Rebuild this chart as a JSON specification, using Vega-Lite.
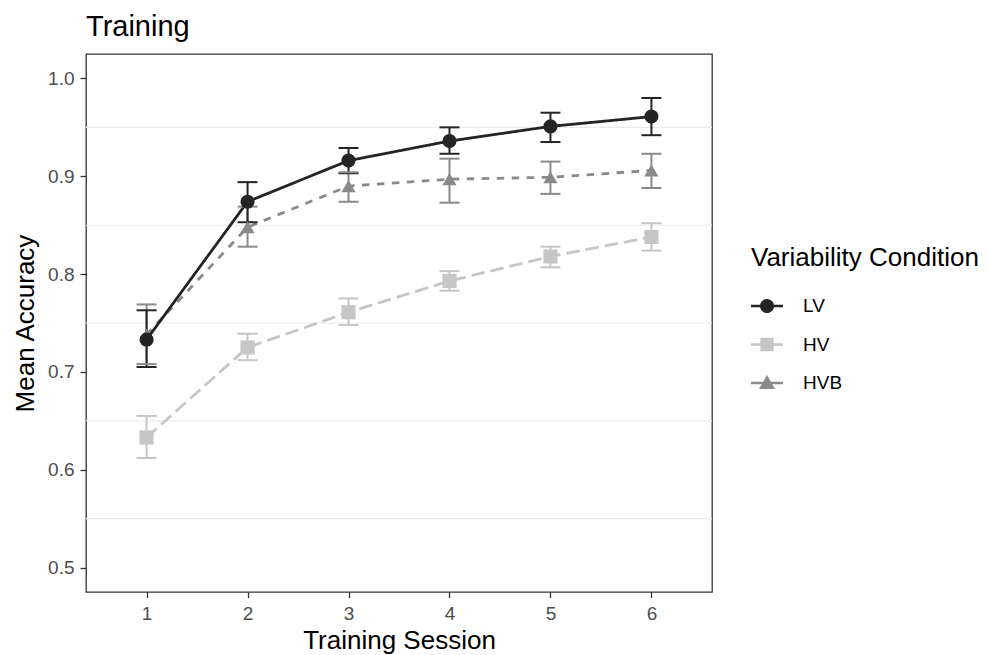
{
  "$schema": "https://vega.github.io/schema/vega-lite/v6.json",
  "width": 626,
  "height": 538,
  "autosize": {"type": "none"},
  "padding": {"left": 86, "top": 54, "right": 277, "bottom": 63},
  "background": "white",
  "title": {
    "text": "Training",
    "anchor": "start",
    "frame": "group",
    "font": "Liberation Sans",
    "fontSize": 29,
    "fontWeight": "normal",
    "color": "black",
    "baseline": "alphabetic",
    "offset": 17,
    "dy": 28
  },
  "config": {
    "view": {"stroke": "#333333", "strokeWidth": 1.3},
    "font": "Liberation Sans",
    "axis": {
      "labelFont": "Liberation Sans",
      "titleFont": "Liberation Sans",
      "labelFontSize": 19,
      "labelColor": "#4d4d4d",
      "titleFontSize": 26,
      "titleFontWeight": "normal",
      "titleColor": "black",
      "tickColor": "#333333",
      "tickWidth": 1.3,
      "domain": false,
      "grid": false
    }
  },
  "resolve": {"scale": {"color": "independent", "shape": "independent"}},
  "datasets": {
    "acc": [
      {"session": 1, "cond": "HVB", "mean": 0.738, "lo": 0.708, "hi": 0.769},
      {"session": 2, "cond": "HVB", "mean": 0.848, "lo": 0.828, "hi": 0.869},
      {"session": 3, "cond": "HVB", "mean": 0.890, "lo": 0.874, "hi": 0.904},
      {"session": 4, "cond": "HVB", "mean": 0.897, "lo": 0.873, "hi": 0.918},
      {"session": 5, "cond": "HVB", "mean": 0.899, "lo": 0.882, "hi": 0.915},
      {"session": 6, "cond": "HVB", "mean": 0.906, "lo": 0.888, "hi": 0.923},
      {"session": 1, "cond": "HV", "mean": 0.633, "lo": 0.612, "hi": 0.655},
      {"session": 2, "cond": "HV", "mean": 0.725, "lo": 0.712, "hi": 0.739},
      {"session": 3, "cond": "HV", "mean": 0.761, "lo": 0.748, "hi": 0.775},
      {"session": 4, "cond": "HV", "mean": 0.793, "lo": 0.783, "hi": 0.803},
      {"session": 5, "cond": "HV", "mean": 0.818, "lo": 0.807, "hi": 0.828},
      {"session": 6, "cond": "HV", "mean": 0.838, "lo": 0.824, "hi": 0.852},
      {"session": 1, "cond": "LV", "mean": 0.733, "lo": 0.705, "hi": 0.763},
      {"session": 2, "cond": "LV", "mean": 0.874, "lo": 0.853, "hi": 0.894},
      {"session": 3, "cond": "LV", "mean": 0.916, "lo": 0.903, "hi": 0.929},
      {"session": 4, "cond": "LV", "mean": 0.936, "lo": 0.923, "hi": 0.950},
      {"session": 5, "cond": "LV", "mean": 0.951, "lo": 0.935, "hi": 0.965},
      {"session": 6, "cond": "LV", "mean": 0.961, "lo": 0.942, "hi": 0.980}
    ],
    "grid": [
      {"g": 0.55}, {"g": 0.65}, {"g": 0.75}, {"g": 0.85}, {"g": 0.95}
    ]
  },
  "layer": [
    {
      "data": {"name": "grid"},
      "mark": {"type": "rule", "color": "#ebebeb", "strokeWidth": 1.1},
      "encoding": {
        "y": {"field": "g", "type": "quantitative", "scale": {"domain": [0.475, 1.025], "nice": false, "zero": false}}
      }
    },
    {
      "data": {"name": "acc"},
      "mark": {"type": "line", "strokeWidth": 2.8, "strokeCap": "butt"},
      "encoding": {
        "x": {"field": "session", "type": "quantitative"},
        "y": {"field": "mean", "type": "quantitative"},
        "color": {"field": "cond", "type": "nominal", "legend": null,
          "scale": {"domain": ["LV", "HV", "HVB"], "range": ["#242424", "#c6c6c6", "#8a8a8a"]}},
        "strokeDash": {
          "field": "cond", "type": "nominal", "legend": null,
          "scale": {"domain": ["LV", "HV", "HVB"], "range": [[1, 0], [13.5, 6], [7.5, 7.5]]}
        },
        "detail": {"field": "cond"}
      }
    },
    {
      "data": {"name": "acc"},
      "mark": {"type": "rule", "strokeWidth": 2, "opacity": 1},
      "encoding": {
        "x": {"field": "session", "type": "quantitative"},
        "y": {"field": "lo", "type": "quantitative"},
        "y2": {"field": "hi"},
        "color": {"field": "cond", "type": "nominal", "legend": null,
          "scale": {"domain": ["LV", "HV", "HVB"], "range": ["#242424", "#c6c6c6", "#8a8a8a"]}}
      }
    },
    {
      "data": {"name": "acc"},
      "mark": {"type": "tick", "orient": "horizontal", "size": 20, "thickness": 2, "opacity": 1},
      "encoding": {
        "x": {"field": "session", "type": "quantitative"},
        "y": {"field": "lo", "type": "quantitative"},
        "color": {"field": "cond", "type": "nominal", "legend": null,
          "scale": {"domain": ["LV", "HV", "HVB"], "range": ["#242424", "#c6c6c6", "#8a8a8a"]}}
      }
    },
    {
      "data": {"name": "acc"},
      "mark": {"type": "tick", "orient": "horizontal", "size": 20, "thickness": 2, "opacity": 1},
      "encoding": {
        "x": {"field": "session", "type": "quantitative"},
        "y": {"field": "hi", "type": "quantitative"},
        "color": {"field": "cond", "type": "nominal", "legend": null,
          "scale": {"domain": ["LV", "HV", "HVB"], "range": ["#242424", "#c6c6c6", "#8a8a8a"]}}
      }
    },
    {
      "data": {"name": "acc"},
      "mark": {"type": "point", "filled": true, "opacity": 1, "size": 16, "strokeWidth": 0},
      "encoding": {
        "x": {"field": "session", "type": "quantitative"},
        "y": {"field": "mean", "type": "quantitative"},
        "color": {
          "field": "cond", "type": "nominal",
          "title": "Variability Condition",
          "scale": {"domain": ["LV", "HV", "HVB"], "range": ["#242424", "#c6c6c6", "#8a8a8a"]},
          "legend": {
            "orient": "none",
            "legendX": 665,
            "legendY": 191,
            "padding": 0,
            "titleFont": "Liberation Sans",
            "titleFontSize": 26,
            "titleFontWeight": "normal",
            "titleColor": "black",
            "titlePadding": 19,
            "titleLimit": 500,
            "labelFont": "Liberation Sans",
            "labelFontSize": 19,
            "labelColor": "black",
            "labelOffset": 20,
            "labelLimit": 300,
            "symbolSize": 1024,
            "symbolOpacity": 1,
            "symbolStrokeWidth": 0,
            "rowPadding": 12.5
          }
        },
        "shape": {
          "field": "cond", "type": "nominal",
          "title": "Variability Condition",
          "scale": {
            "domain": ["LV", "HV", "HVB"],
            "range": [
              "M-1,-0.085H1V0.085H-1Z M0.44,0A0.44,0.44 0 1,1 -0.44,0A0.44,0.44 0 1,1 0.44,0Z",
              "M-1,-0.085H1V0.085H-1Z M-0.42,-0.42H0.42V0.42H-0.42Z",
              "M-1,-0.085H1V0.085H-1Z M0,-0.5L0.5,0.38L-0.5,0.38Z"
            ]
          }
        }
      }
    },
    {
      "data": {"name": "acc"},
      "mark": {"type": "point", "filled": true, "opacity": 1, "size": 200, "strokeWidth": 0},
      "encoding": {
        "x": {
          "field": "session", "type": "quantitative",
          "title": "Training Session",
          "scale": {"domain": [0.4, 6.6], "nice": false, "zero": false},
          "axis": {"values": [1, 2, 3, 4, 5, 6], "format": "d", "tickSize": 5.5, "labelPadding": 7, "titlePadding": 4}
        },
        "y": {
          "field": "mean", "type": "quantitative",
          "title": "Mean Accuracy",
          "scale": {"domain": [0.475, 1.025], "nice": false, "zero": false},
          "axis": {"values": [0.5, 0.6, 0.7, 0.8, 0.9, 1.0], "format": ".1f", "tickSize": 6, "labelPadding": 6, "titlePadding": 9}
        },
        "color": {"field": "cond", "type": "nominal", "legend": null,
          "scale": {"domain": ["LV", "HV", "HVB"], "range": ["#242424", "#c6c6c6", "#8a8a8a"]}},
        "shape": {
          "field": "cond", "type": "nominal", "legend": null,
          "scale": {"domain": ["LV", "HV", "HVB"], "range": ["circle", "square", "triangle-up"]}
        }
      }
    }
  ]
}
